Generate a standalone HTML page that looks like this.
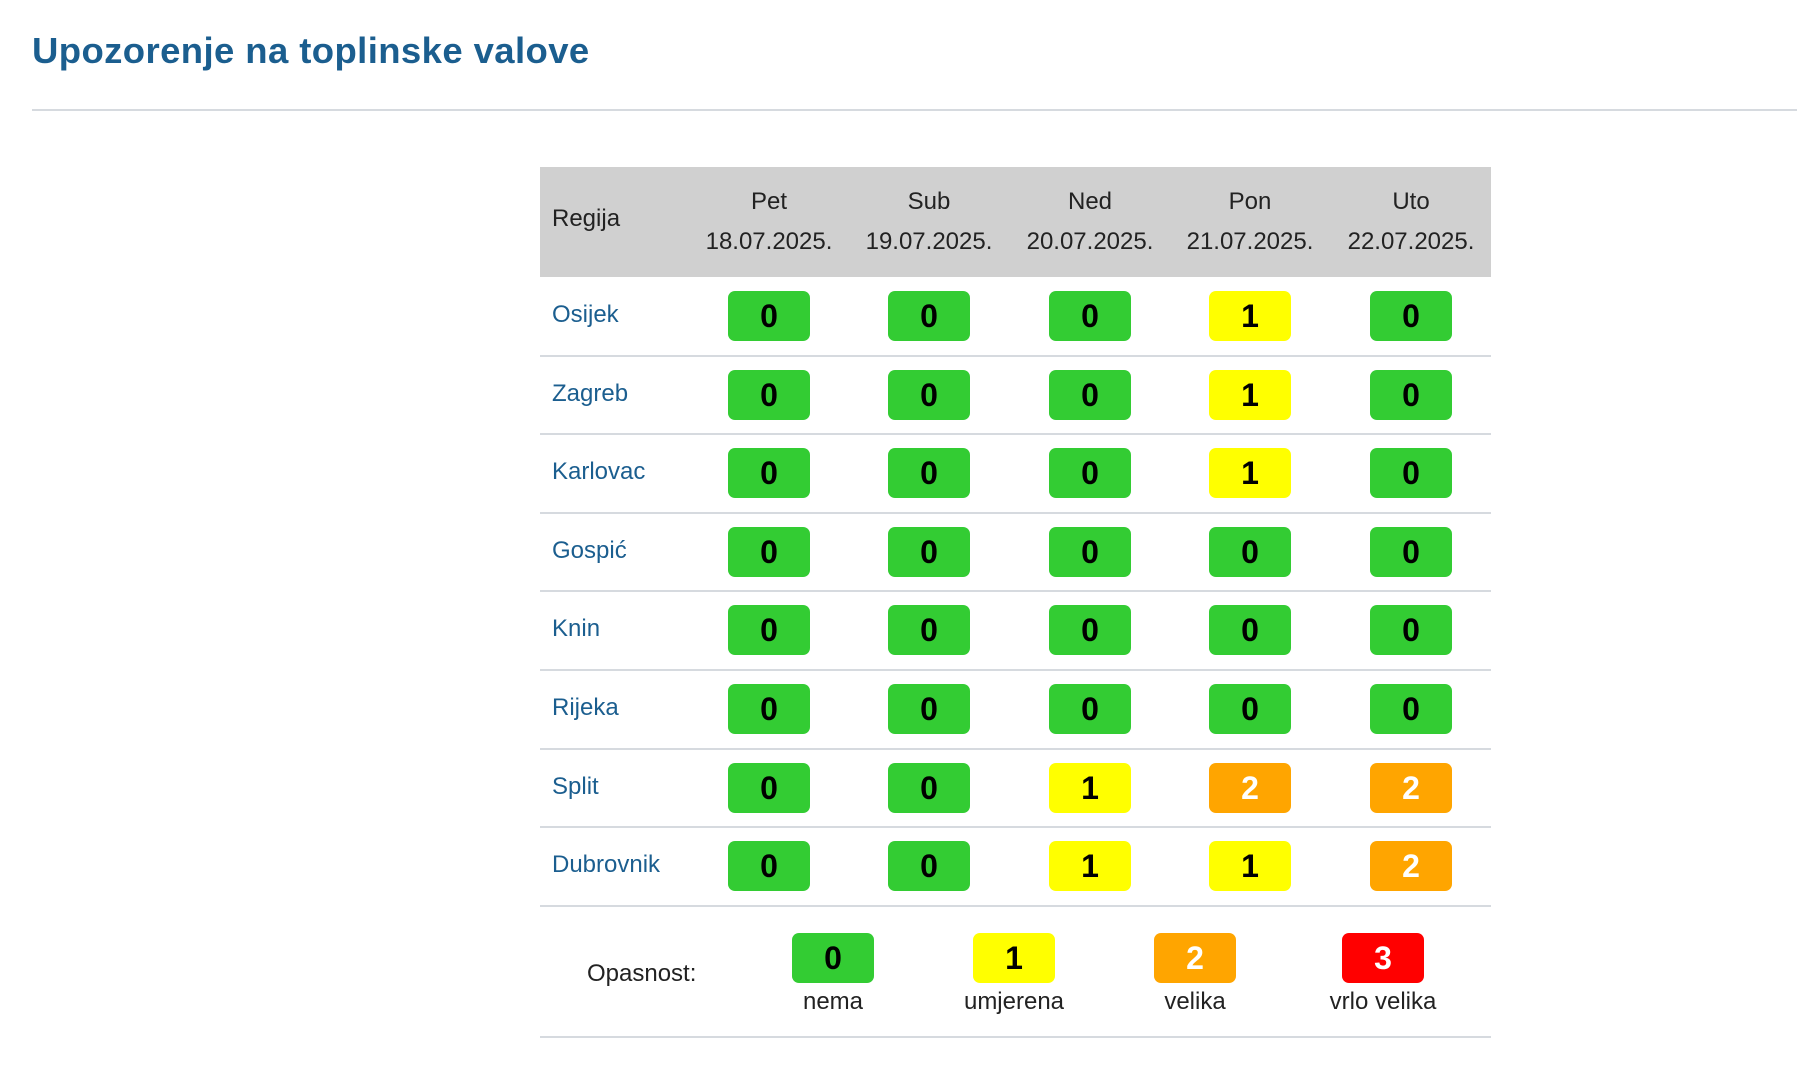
<!DOCTYPE html>
<html><head><meta charset="utf-8"><style>
body{margin:0;width:1797px;height:1080px;background:#fff;position:relative;overflow:hidden;font-family:"Liberation Sans",sans-serif;}
.a{position:absolute;}
.t{left:32px;top:30px;font-size:36.5px;font-weight:bold;color:#1b5e8f;letter-spacing:0.4px;}
.hl{height:2px;background:#d6dadf;}
.hd{left:540px;top:167px;width:951px;height:110px;background:#d0d0d0;}
.hc{width:160px;text-align:center;font-size:24px;color:#222;line-height:40px;}
.rg{font-size:24px;color:#1b5e8f;left:552px;}
.b{width:82px;height:50px;border-radius:7px;text-align:center;line-height:50px;font-size:32px;font-weight:bold;}
.g{background:#33cc33;color:#000}.y{background:#ffff00;color:#000}.o{background:#ffa500;color:#fff}.r{background:#ff0000;color:#fff}
.lg{font-size:24px;color:#222;text-align:center;width:200px;}
</style></head><body>
<div class="a t">Upozorenje na toplinske valove</div>
<div class="a hl" style="left:32px;top:109px;width:1765px"></div>
<div class="a hd"></div>
<div class="a" style="left:552px;top:205px;font-size:24px;color:#222">Regija</div>
<div class="a hc" style="left:689px;top:182px">Pet<br>18.07.2025.</div>
<div class="a hc" style="left:849px;top:182px">Sub<br>19.07.2025.</div>
<div class="a hc" style="left:1010px;top:182px">Ned<br>20.07.2025.</div>
<div class="a hc" style="left:1170px;top:182px">Pon<br>21.07.2025.</div>
<div class="a hc" style="left:1331px;top:182px">Uto<br>22.07.2025.</div>
<div id="rows"></div>
<script>
(function(){
var names=["Osijek","Zagreb","Karlovac","Gospić","Knin","Rijeka","Split","Dubrovnik"];
var d=[[0,0,0,1,0],[0,0,0,1,0],[0,0,0,1,0],[0,0,0,0,0],[0,0,0,0,0],[0,0,0,0,0],[0,0,1,2,2],[0,0,1,1,2]];
var cx=[769,929,1090,1250,1411],cl=["g","y","o","r"],h="";
for(var i=0;i<8;i++){var rt=277+i*78.6,c=rt+39;
h+='<div class="a rg" style="top:'+(c-15)+'px">'+names[i]+'</div>';
for(var j=0;j<5;j++){var v=d[i][j];h+='<div class="a b '+cl[v]+'" style="left:'+(cx[j]-41)+'px;top:'+(c-25)+'px">'+v+'</div>';}
h+='<div class="a hl" style="left:540px;width:951px;top:'+(rt+77.6)+'px"></div>';}
document.getElementById("rows").innerHTML=h;
})();
</script>
<div class="a" style="left:587px;top:960px;font-size:24px;color:#222">Opasnost:</div>
<div class="a b g" style="left:792px;top:933px">0</div>
<div class="a b y" style="left:973px;top:933px">1</div>
<div class="a b o" style="left:1154px;top:933px">2</div>
<div class="a b r" style="left:1342px;top:933px">3</div>
<div class="a lg" style="left:733px;top:988px">nema</div>
<div class="a lg" style="left:914px;top:988px">umjerena</div>
<div class="a lg" style="left:1095px;top:988px">velika</div>
<div class="a lg" style="left:1283px;top:988px">vrlo velika</div>
<div class="a hl" style="left:540px;width:951px;top:1036px"></div>
</body></html>
